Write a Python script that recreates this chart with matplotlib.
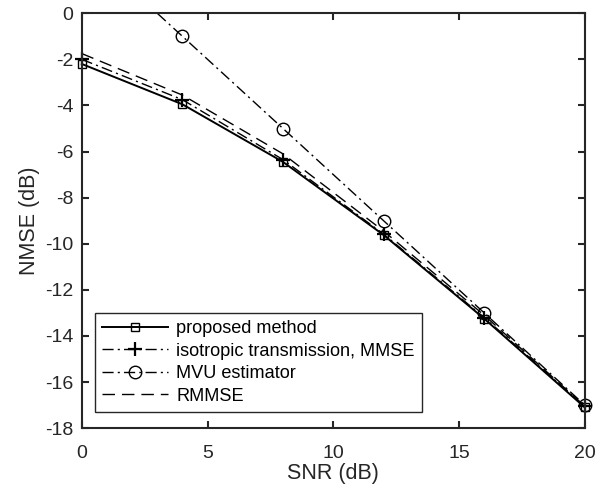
import matplotlib.pyplot as plt
import numpy as np
from matplotlib.transforms import Bbox, TransformedBbox

plt.rcParams['font.family'] = ['Liberation Sans', 'DejaVu Sans']
plt.rcParams['axes.unicode_minus'] = False

# Datos
snr = [0, 4, 8, 12, 16, 20]
proposed = [-2.2, -3.95, -6.45, -9.62, -13.25, -17.1]
isotropic = [-2.0, -3.75, -6.35, -9.58, -13.2, -17.06]
mvu = [3.0, -1.0, -5.0, -9.0, -13.0, -17.0]
rmmse = [-1.75, -3.55, -6.1, -9.45, -13.1, -17.05]

fig = plt.figure(figsize=(6.06, 4.91), dpi=100)
ax = fig.add_axes([0.135, 0.128, 0.83, 0.845])

k = '#000000'
dashdot = (0, (8, 3, 1.5, 3))
lineas = []
lineas += ax.plot(snr, proposed, '-', color=k, lw=1.4, marker='s', ms=6,
                  mfc='none', mew=1.0, label='proposed method')
lineas += ax.plot(snr, isotropic, color=k, lw=1.0, ls=dashdot, marker='+',
                  ms=10, mew=1.6, label='isotropic transmission, MMSE')
lineas += ax.plot(snr, mvu, color=k, lw=1.0, ls=dashdot, marker='o',
                  ms=9, mfc='none', mew=1.0, label='MVU estimator')
lineas += ax.plot(snr, rmmse, color=k, lw=1.0, ls=(0, (9, 5)), label='RMMSE')

# recorte solo arriba/abajo, para que los marcadores de los bordes se vean
caja = TransformedBbox(Bbox([[-0.05, 0.0], [1.05, 1.0]]), ax.transAxes)
for l in lineas:
    l.set_clip_box(caja)

ax.set_xlim(0, 20)
ax.set_ylim(-18, 0)
ax.set_xticks(np.arange(0, 21, 5))
ax.set_yticks(np.arange(-18, 1, 2))
ax.set_xlabel('SNR (dB)', fontsize=15.5, color='#262626', labelpad=1)
ax.set_ylabel('NMSE (dB)', fontsize=15.5, color='#262626', labelpad=4)

for s in ax.spines.values():
    s.set_color('#262626')
    s.set_linewidth(1.5)
ax.tick_params(direction='in', top=True, right=True, length=5, width=1.5,
               labelsize=14, colors='#262626', labelcolor='#262626', pad=6)
ax.tick_params(axis='x', pad=12)

leg = ax.legend(loc='lower left', bbox_to_anchor=(0.026, 0.039),
                borderaxespad=0, fontsize=13.1, fancybox=False,
                edgecolor='#262626', framealpha=1, handlelength=3.6,
                labelspacing=0.3, borderpad=0.4, handletextpad=0.46)
leg.get_frame().set_linewidth(1.0)

fig.savefig('out.png', dpi=100)
